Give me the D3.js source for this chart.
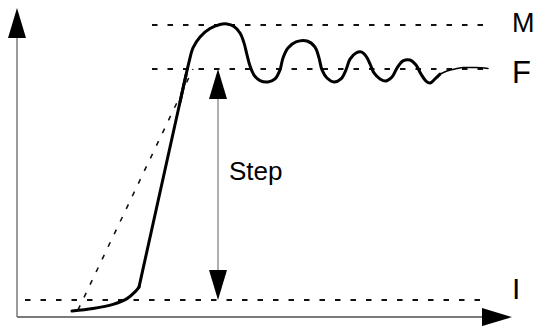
<!DOCTYPE html>
<html>
<head>
<meta charset="utf-8">
<script src="https://cdn.jsdelivr.net/npm/d3@7"></script>
<style>
  html, body { margin: 0; padding: 0; background: #fff; }
  svg { display: block; }
  text { font-family: "Liberation Sans", Arial, sans-serif; fill: #000; }
</style>
</head>
<body>
<svg id="chart" width="534" height="326"></svg>
<script>
// ---- data (time in arbitrary units, value in % of step) ----
const levelNames  = ["I", "F", "M"];
const levelValues = [0, 100, 119];
const levelStartT = [1.6, 27, 27];
const levelEndT   = 94.4;

// slow start of the response (curved foot)
const footT = [11, 15.2, 19.2, 22, 23.6, 24.4];
const footV = [-4.8, -3.7, -1.9, 0.6, 3.5, 5.6];
// straight ramp
const rampT = [24.4, 33.8];
const rampV = [5.6, 97.4];
// overshoot and ringing
const responseT = [32.6, 33.8, 34.4, 35.2, 36.6, 38.6, 40.6, 42,
  43.4, 44.6, 45.4, 46, 46.6, 47.4, 48.6, 50.2, 51.6, 52.6, 53.2, 54.2, 55.8, 58, 59.6, 60.4, 61, 62,
  63.4, 64.8, 65.8, 66.6, 67.8, 68.8, 69.8, 70.6, 71.4, 72.6, 73.8, 75, 76, 77.2, 78.6, 79.8, 80.8,
  81.8, 82.6, 83.6, 84.6];
const responseV = [85.7, 97.4, 103.0, 109.1, 113.9, 117.5, 119.3, 119.5,
  118.4, 115.6, 111.3, 106.1, 101.3, 97.4, 95.0, 94.4, 95.7, 99.6, 104.8, 109.1, 111.7, 112.1, 109.5, 104.8, 99.6, 96.1,
  94.4, 95.7, 99.6, 104.3, 106.9, 107.4, 105.6, 102.2, 98.3, 95.7, 94.8, 96.5, 100.4, 103.5, 103.9, 101.7, 97.8,
  94.8, 93.9, 95.7, 97.8];
const tailT = [84.6, 86, 87.6, 89.2, 91.8, 94.2];
const tailV = [97.8, 99.1, 100, 100.6, 100.6, 100.2];

const slopeT = [12.2, 35.2];
const slopeV = [-4.3, 100];

const stepT = 40.2;
const stepLabel = "Step";
const axisMinV = -7.4, axisMaxV = 126.4, axisMaxT = 99;

// ---- scales ----
const x = d3.scaleLinear().domain([0, 99]).range([17, 512]);
const y = d3.scaleLinear().domain([0, 100]).range([300, 69]);

const svg = d3.select("#chart");
const axisColor = "#7a7a7a";

// axes
svg.append("line").attr("x1", x(0)).attr("x2", x(0))
  .attr("y1", y(axisMinV)).attr("y2", y(axisMaxV) + 28)
  .attr("stroke", axisColor).attr("stroke-width", 1.5);
svg.append("path")
  .attr("d", `M${x(0)},${y(axisMaxV)} L${x(0) - 9},${y(axisMaxV) + 30} L${x(0) + 9},${y(axisMaxV) + 30} Z`)
  .attr("fill", "#000");
svg.append("line").attr("x1", x(0)).attr("x2", x(axisMaxT) - 28)
  .attr("y1", y(axisMinV)).attr("y2", y(axisMinV))
  .attr("stroke", axisColor).attr("stroke-width", 2);
svg.append("path")
  .attr("d", `M${x(axisMaxT)},${y(axisMinV)} L${x(axisMaxT) - 30},${y(axisMinV) - 9} L${x(axisMaxT) - 30},${y(axisMinV) + 9} Z`)
  .attr("fill", "#000");

// level dashed lines + labels
levelNames.forEach((name, i) => {
  svg.append("line")
    .attr("x1", x(levelStartT[i])).attr("x2", x(levelEndT))
    .attr("y1", y(levelValues[i])).attr("y2", y(levelValues[i]))
    .attr("stroke", "#111").attr("stroke-width", 2)
    .attr("stroke-dasharray", "5.5,10");
});
const labelSizes = [30, 31, 27];
const labelDy = [-1, 14, 7];
levelNames.forEach((name, i) => {
  svg.append("text")
    .attr("x", x(axisMaxT))
    .attr("y", y(levelValues[i]) + labelDy[i])
    .attr("font-size", labelSizes[i])
    .text(name);
});

// slope dashed line
svg.append("line")
  .attr("x1", x(slopeT[0])).attr("y1", y(slopeV[0]))
  .attr("x2", x(slopeT[1])).attr("y2", y(slopeV[1]))
  .attr("stroke", "#111").attr("stroke-width", 1.6)
  .attr("stroke-dasharray", "5,9");

// step double arrow
svg.append("line")
  .attr("x1", x(stepT)).attr("x2", x(stepT))
  .attr("y1", y(100) + 28).attr("y2", y(0) - 28)
  .attr("stroke", axisColor).attr("stroke-width", 1.2);
svg.append("path")
  .attr("d", `M${x(stepT)},${y(100)} L${x(stepT) - 9},${y(100) + 30} L${x(stepT) + 9},${y(100) + 30} Z`)
  .attr("fill", "#000");
svg.append("path")
  .attr("d", `M${x(stepT)},${y(0)} L${x(stepT) - 9},${y(0) - 30} L${x(stepT) + 9},${y(0) - 30} Z`)
  .attr("fill", "#000");
svg.append("text")
  .attr("x", x(stepT) + 11).attr("y", y(52))
  .attr("font-size", 26)
  .text(stepLabel);

// response curve
const smooth = d3.line()
  .x(d => x(d[0])).y(d => y(d[1]))
  .curve(d3.curveCatmullRom.alpha(0.5));
const straight = d3.line().x(d => x(d[0])).y(d => y(d[1]));
const pts = (ts, vs) => ts.map((t, i) => [t, vs[i]]);
const thick = g => g.attr("fill", "none").attr("stroke", "#000").attr("stroke-width", 3)
  .attr("stroke-linejoin", "round").attr("stroke-linecap", "round");
svg.append("path").attr("d", smooth(pts(footT, footV))).call(thick);
svg.append("path").attr("d", straight(pts(rampT, rampV))).call(thick);
svg.append("path").attr("d", smooth(pts(responseT, responseV))).call(thick);
svg.append("path").attr("d", smooth(pts(tailT, tailV)))
  .attr("fill", "none").attr("stroke", "#000").attr("stroke-width", 1.5)
  .attr("stroke-linecap", "round");
</script>
</body>
</html>
